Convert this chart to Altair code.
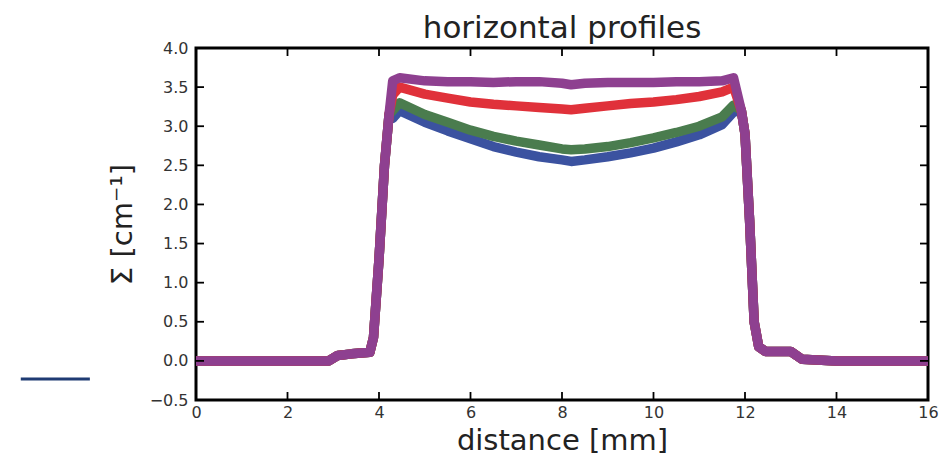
import altair as alt
import pandas as pd

# ---- data ----
edge_left_x = [0.0, 1.0, 2.0, 2.9, 3.1, 3.4, 3.8, 3.88, 4.0, 4.12, 4.22]
edge_left_y = [0.0, 0.0, 0.0, 0.0, 0.07, 0.09, 0.11, 0.3, 1.3, 2.5, 3.15]

plateau_x = [4.3, 4.45, 5.0, 5.5, 6.0, 6.5, 7.0, 7.5, 8.0, 8.2, 8.5, 9.0, 9.5,
             10.0, 10.5, 11.0, 11.5, 11.75]
purple_y = [3.58, 3.62, 3.58, 3.57, 3.57, 3.56, 3.57, 3.57, 3.55, 3.53, 3.55,
            3.56, 3.56, 3.56, 3.57, 3.57, 3.58, 3.62]
red_y = [3.40, 3.50, 3.41, 3.36, 3.31, 3.28, 3.26, 3.24, 3.22, 3.21, 3.23,
         3.26, 3.29, 3.31, 3.34, 3.38, 3.44, 3.50]
green_y = [3.20, 3.30, 3.15, 3.05, 2.95, 2.87, 2.81, 2.76, 2.71, 2.70, 2.71,
           2.74, 2.79, 2.85, 2.92, 3.00, 3.12, 3.27]
blue_y = [3.10, 3.20, 3.05, 2.94, 2.84, 2.74, 2.67, 2.61, 2.57, 2.55, 2.57,
          2.61, 2.66, 2.72, 2.80, 2.89, 3.02, 3.18]

edge_right_x = [11.92, 12.0, 12.1, 12.2, 12.3, 12.45, 13.0, 13.25, 14.0, 15.0, 16.0]
edge_right_y = [3.2, 2.9, 1.8, 0.5, 0.18, 0.12, 0.12, 0.02, 0.0, 0.0, 0.0]

series_names = ["blue", "green", "red", "purple"]
series_plateaus = [blue_y, green_y, red_y, purple_y]
series_colors = ["#3b52a0", "#4a7c4e", "#e0313a", "#8e4090"]

x_ticks = [0, 2, 4, 6, 8, 10, 12, 14, 16]
y_ticks = [-0.5, 0.0, 0.5, 1.0, 1.5, 2.0, 2.5, 3.0, 3.5, 4.0]

stray_x = [-3.83, -2.32]
stray_y = [-0.232]

X_MIN, X_MAX = 0, 16
Y_MIN, Y_MAX = -0.5, 4.0
W, H = 732, 352

X_TITLE = "distance [mm]"
Y_TITLE = "Σ [cm⁻¹]"

xs = alt.Scale(domain=[X_MIN, X_MAX], nice=False, zero=False)
ys = alt.Scale(domain=[Y_MIN, Y_MAX], nice=False, zero=False)
xax = alt.Axis(values=x_ticks, format="d", labelPadding=4, titlePadding=6,
               labelFlush=False, labelOverlap=False)
yax = alt.Axis(values=y_ticks, format=".1f", labelPadding=8, titlePadding=12,
               labelFlush=False, labelOverlap=False)


def X(field):
    return alt.X(field, scale=xs, axis=xax, title=X_TITLE)


def Y(field):
    return alt.Y(field, scale=ys, axis=yax, title=Y_TITLE)


layers = []
for name, plat, col in zip(series_names, series_plateaus, series_colors):
    df = pd.DataFrame({
        "x": edge_left_x + plateau_x + edge_right_x,
        "y": edge_left_y + plat + edge_right_y,
    })
    df["i"] = range(len(df))
    layers.append(
        alt.Chart(df).mark_line(color=col, strokeWidth=9.5, strokeCap="round",
                                strokeJoin="round", clip=True)
        .encode(x=X("x:Q"), y=Y("y:Q"), order="i:Q")
    )

# inward ticks (matplotlib classic style), 8 px long
tlx = (X_MAX - X_MIN) * 8 / W
tly = (Y_MAX - Y_MIN) * 8 / H
xt = pd.DataFrame({"x": x_ticks})
xt["yb0"], xt["yb1"] = Y_MIN, Y_MIN + tly
xt["yt0"], xt["yt1"] = Y_MAX, Y_MAX - tly
yt = pd.DataFrame({"y": y_ticks})
yt["xl0"], yt["xl1"] = X_MIN, X_MIN + tlx
yt["xr0"], yt["xr1"] = X_MAX, X_MAX - tlx
tick_style = dict(color="black", strokeWidth=1.8)
bottom = alt.Chart(xt).mark_rule(**tick_style).encode(
    x=X("x:Q"), y=Y("yb0:Q"), y2="yb1:Q")
top = alt.Chart(xt).mark_rule(**tick_style).encode(
    x=X("x:Q"), y=Y("yt0:Q"), y2="yt1:Q")
left = alt.Chart(yt).mark_rule(**tick_style).encode(
    y=Y("y:Q"), x=X("xl0:Q"), x2="xl1:Q")
right = alt.Chart(yt).mark_rule(**tick_style).encode(
    y=Y("y:Q"), x=X("xr0:Q"), x2="xr1:Q")

stray = alt.Chart(pd.DataFrame({"x": [stray_x[0]], "x2": [stray_x[1]],
                                "y": stray_y})).mark_rule(
    color="#1f3b73", strokeWidth=3, clip=False).encode(
    x=X("x:Q"), x2="x2:Q", y=Y("y:Q"))

chart = alt.layer(*layers, bottom, top, left, right, stray).properties(
    width=W, height=H,
    title=alt.TitleParams("horizontal profiles", fontSize=31, font="DejaVu Sans",
                          fontWeight="normal", color="#222222", anchor="middle",
                          offset=-5),
    autosize=alt.AutoSizeParams(type="none"),
    padding={"left": 196, "top": 48, "right": 20, "bottom": 61},
).configure_view(
    stroke="black", strokeWidth=3
).configure_axis(
    domain=False, ticks=False, grid=False, labelOverlap=False,
    labelFont="DejaVu Sans", labelFontSize=16, labelColor="#333333",
    titleFont="DejaVu Sans", titleFontSize=29, titleFontWeight="normal",
    titleColor="#222222",
)

chart.save("out.html", embed_options={"renderer": "svg", "actions": False})
